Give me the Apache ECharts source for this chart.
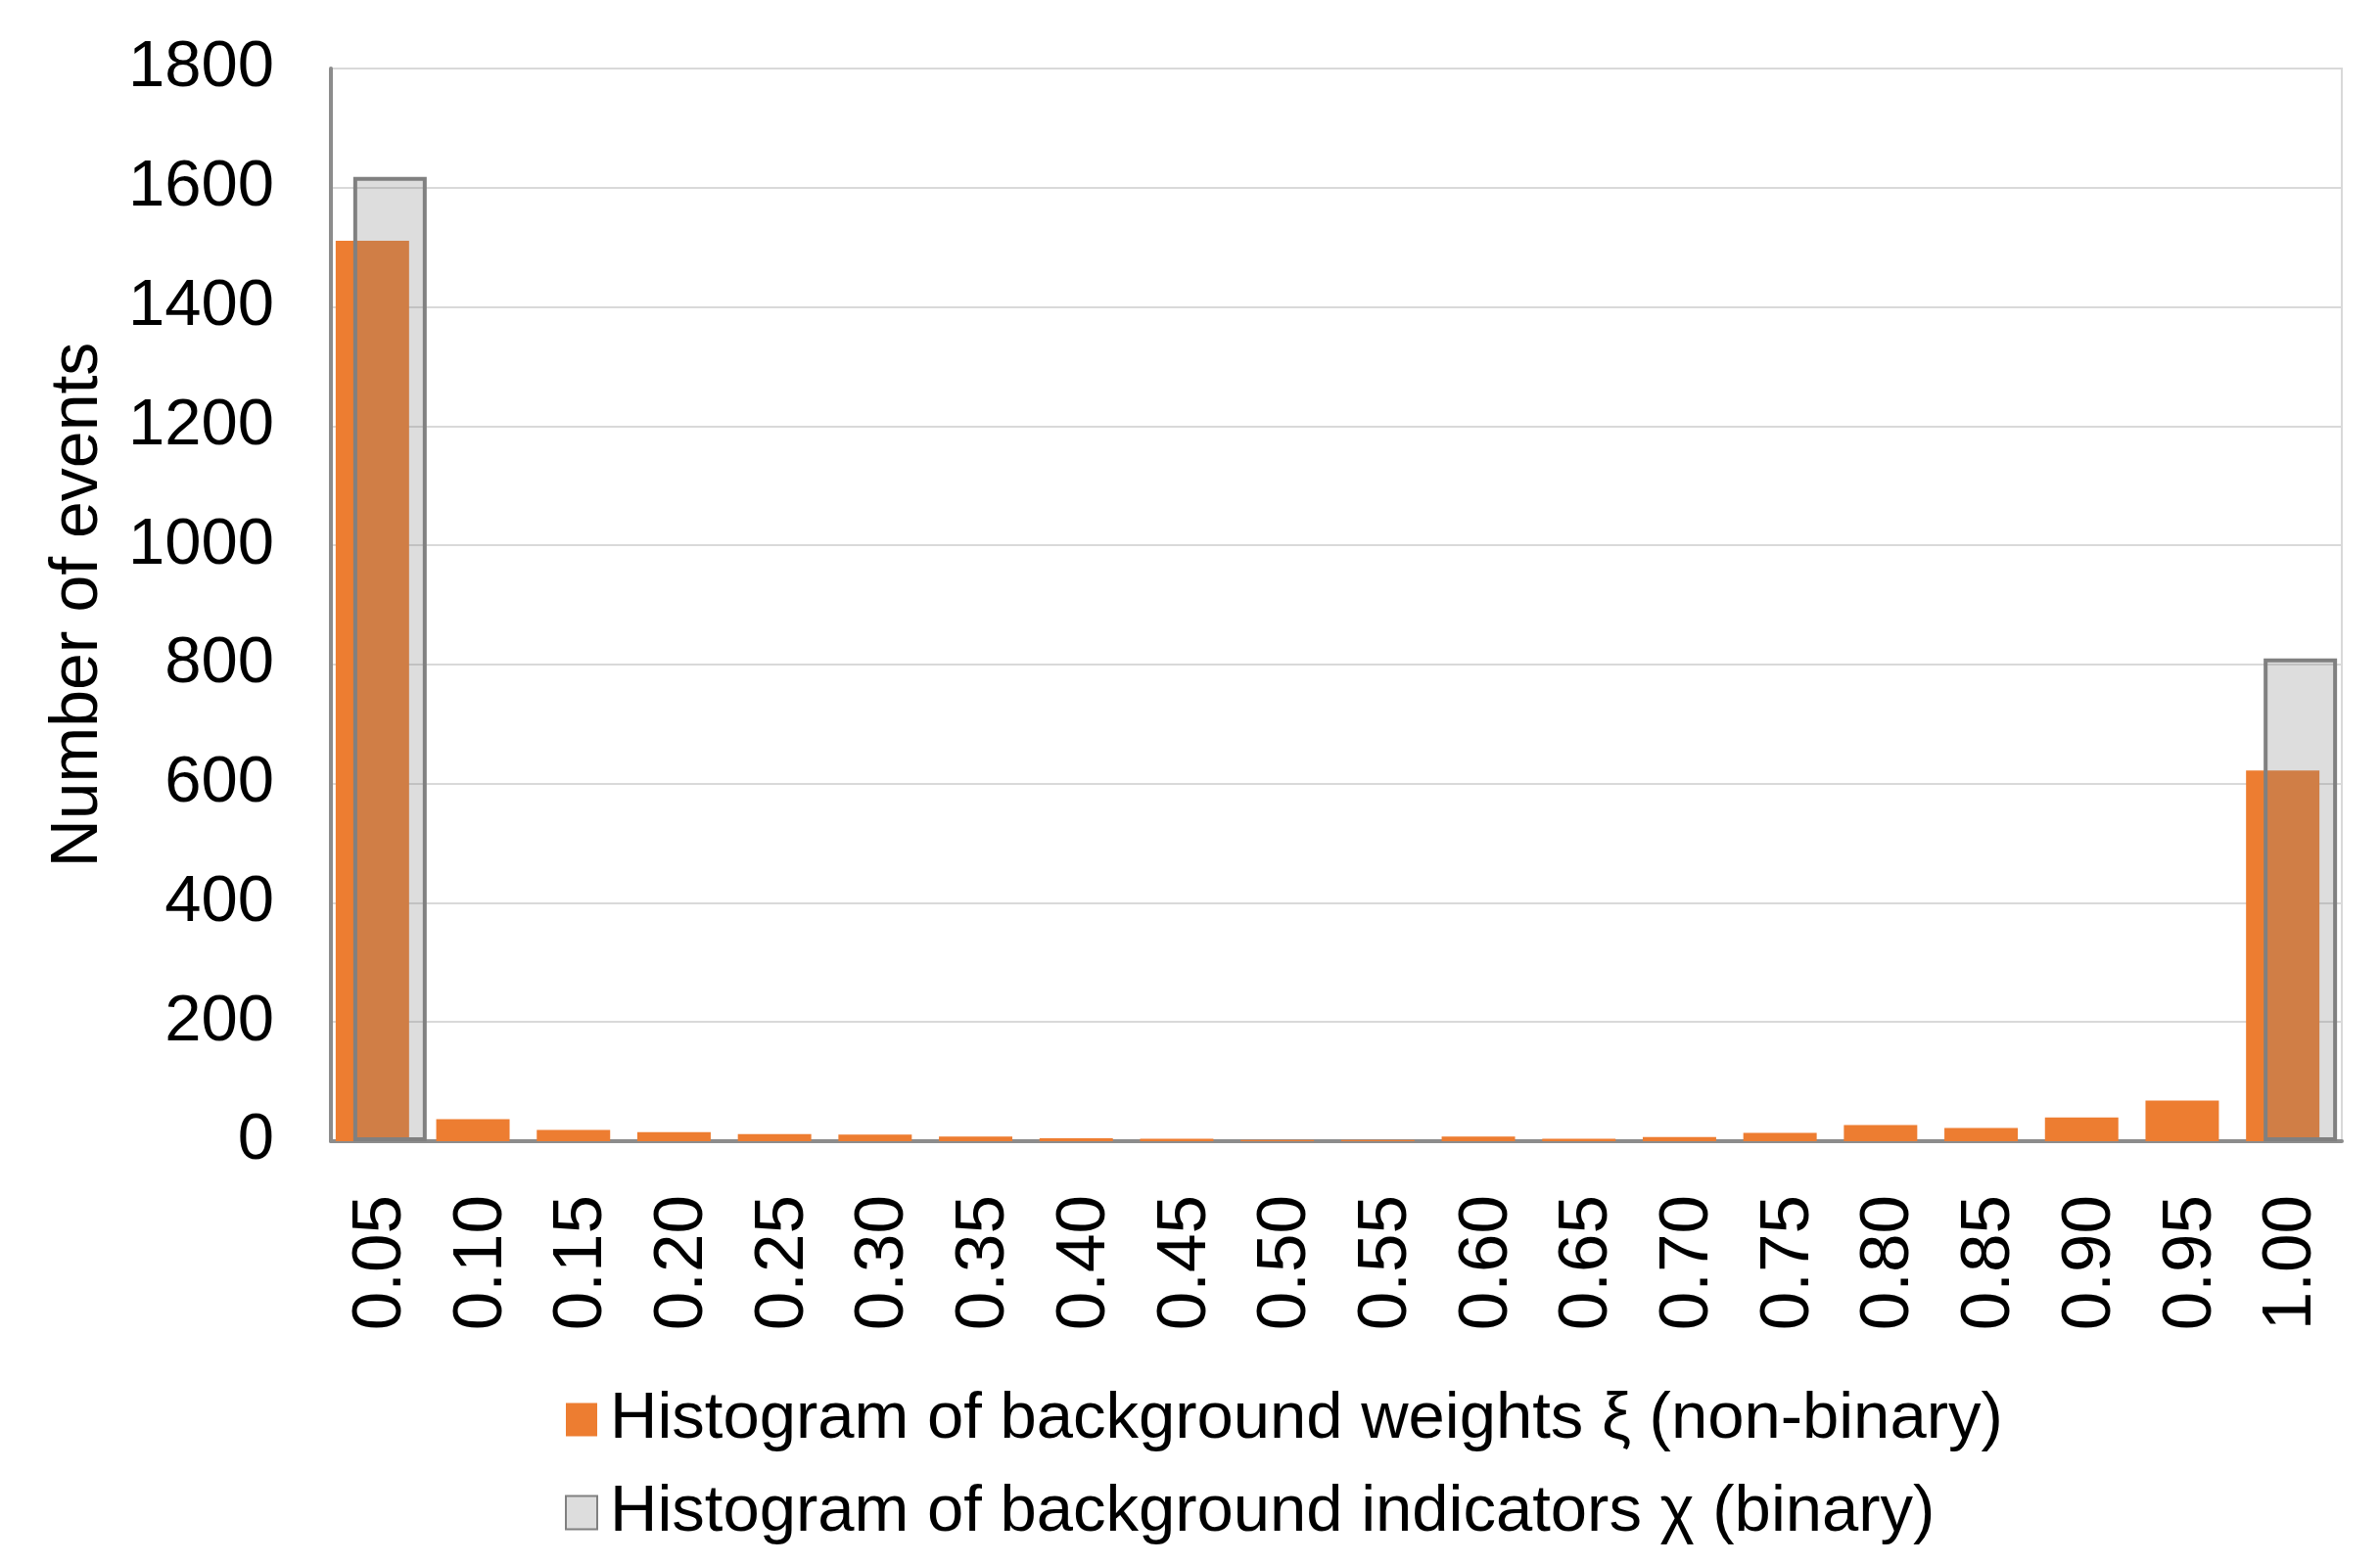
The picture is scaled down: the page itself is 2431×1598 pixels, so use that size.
<!DOCTYPE html>
<html><head><meta charset="utf-8">
<script src="https://cdn.jsdelivr.net/npm/echarts@6/dist/echarts.min.js"></script>
<style>html,body{margin:0;padding:0;background:#fff}#c{width:2431px;height:1598px}</style>
</head><body><div id="c"></div>
<script>
const categories = ["0.05","0.10","0.15","0.20","0.25","0.30","0.35","0.40","0.45","0.50","0.55","0.60","0.65","0.70","0.75","0.80","0.85","0.90","0.95","1.00"];
const weightsXi = [1511,37,19,15,12,11,8,5,4,2,2,8,4,7,14,27,22,40,68,622];
const indicatorsChi = [1618,null,null,null,null,null,null,null,null,null,null,null,null,null,null,null,null,null,null,810];
const yTicks = [0,200,400,600,800,1000,1200,1400,1600,1800];
const seriesNames = ["Histogram of background weights ξ (non-binary)","Histogram of background indicators χ (binary)"];

const chart = echarts.init(document.getElementById('c'));
chart.setOption({
  animation:false,
  backgroundColor:'#fff',
  grid:{left:338,right:39,top:70,bottom:432,show:true,borderColor:'#d9d9d9',borderWidth:2},
  legend:{
    orient:'vertical', left:572, top:1412, itemWidth:32, itemHeight:34, itemGap:28, icon:'rect',
    textStyle:{fontFamily:'Liberation Sans, Arial',fontSize:67,color:'#000',padding:[0,0,0,8]},
    data:seriesNames
  },
  xAxis:{
    type:'category', data:categories,
    axisLine:{lineStyle:{color:'#8c8c8c',width:4}},
    axisTick:{show:false},
    axisLabel:{rotate:90,margin:55,fontFamily:'Liberation Sans, Arial',fontSize:71,color:'#000'}
  },
  yAxis:{
    type:'value', min:0, max:1800, interval:200,
    name:'Number of events', nameLocation:'middle', nameGap:224, nameRotate:90,
    nameTextStyle:{fontFamily:'Liberation Sans, Arial',fontSize:68,color:'#000'},
    axisLine:{show:true,lineStyle:{color:'#8c8c8c',width:4}},
    axisTick:{show:false},
    splitLine:{lineStyle:{color:'#d9d9d9',width:2}},
    axisLabel:{margin:58,fontFamily:'Liberation Sans, Arial',fontSize:67,color:'#000',
      formatter:v=>yTicks.includes(v)?String(v):''}
  },
  series:[
    {name:seriesNames[0],type:'bar',data:weightsXi,barWidth:'73%',barGap:'-76%',
     itemStyle:{color:'#ED7D31'}},
    {name:seriesNames[1],type:'bar',data:indicatorsChi,barWidth:'73%',barGap:'-76%',z:3,
     itemStyle:{color:'rgba(128,128,128,0.27)',borderColor:'#808080',borderWidth:4}}
  ]
});
</script></body></html>
